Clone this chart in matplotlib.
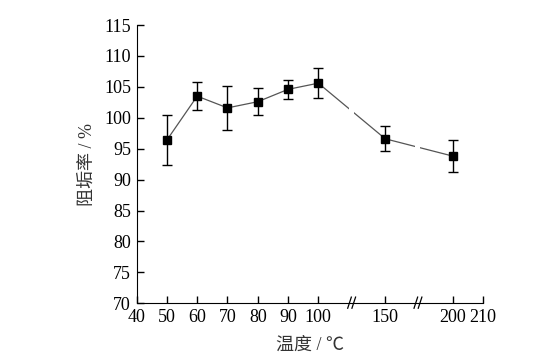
import matplotlib
matplotlib.use('Agg')
import matplotlib.pyplot as plt
import matplotlib.transforms as mtransforms

temps = [50, 60, 70, 80, 90, 100, 150, 200]
rate = [96.4, 103.5, 101.6, 102.6, 104.6, 105.6, 96.6, 93.8]
err = [4.0, 2.3, 3.5, 2.2, 1.5, 2.4, 2.0, 2.6]
tick_labels = [40, 50, 60, 70, 80, 90, 100, 150, 200, 210]

# broken x axis: 40-100 linear, then compressed
pos_map = {150: 122.1, 200: 144.4, 210: 154.3}
def xpos(t):
    return t if t <= 100 else pos_map[t]

breaks = [111.0, 132.9]

serif = ['Liberation Serif', 'Noto Sans CJK SC']
plt.rcParams['font.family'] = serif

fig = plt.figure(figsize=(5.4, 3.58), dpi=100)
ax = fig.add_axes([0.253, 0.153, 0.641, 0.777])

xs = [xpos(t) for t in temps]
ax.plot(xs, rate, color='#555555', lw=0.9, zorder=1)
ax.errorbar(xs, rate, yerr=err, fmt='s', color='black', ms=6,
            capsize=3.5, elinewidth=1, capthick=1, zorder=3)

# gaps in the line at the breaks
for b in breaks:
    ax.axvspan(b - 0.9, b + 0.8, color='white', zorder=2, lw=0)

ax.set_xlim(40, 154.3)
ax.set_ylim(70, 115)
ax.set_yticks(range(70, 116, 5))
ax.set_xticks([xpos(t) for t in tick_labels])
ax.set_xticklabels([str(t) for t in tick_labels])

for s in ['top', 'right']:
    ax.spines[s].set_visible(False)
ax.tick_params(direction='in', length=5, width=1, labelsize=13, pad=4)

# break marks
trans = mtransforms.blended_transform_factory(ax.transData, ax.transAxes)
for b in breaks:
    for dx in (-0.7, 0.7):
        ax.plot([b + dx - 0.6, b + dx + 0.6], [-0.018, 0.022], color='black',
                lw=0.9, transform=trans, clip_on=False, zorder=5)

ax.set_ylabel('阻垢率 / %', fontsize=13, color='#333333', labelpad=6)
ax.set_xlabel('温度 / ℃', fontsize=13, color='#333333', labelpad=8)

fig.savefig('out.png', dpi=100)
